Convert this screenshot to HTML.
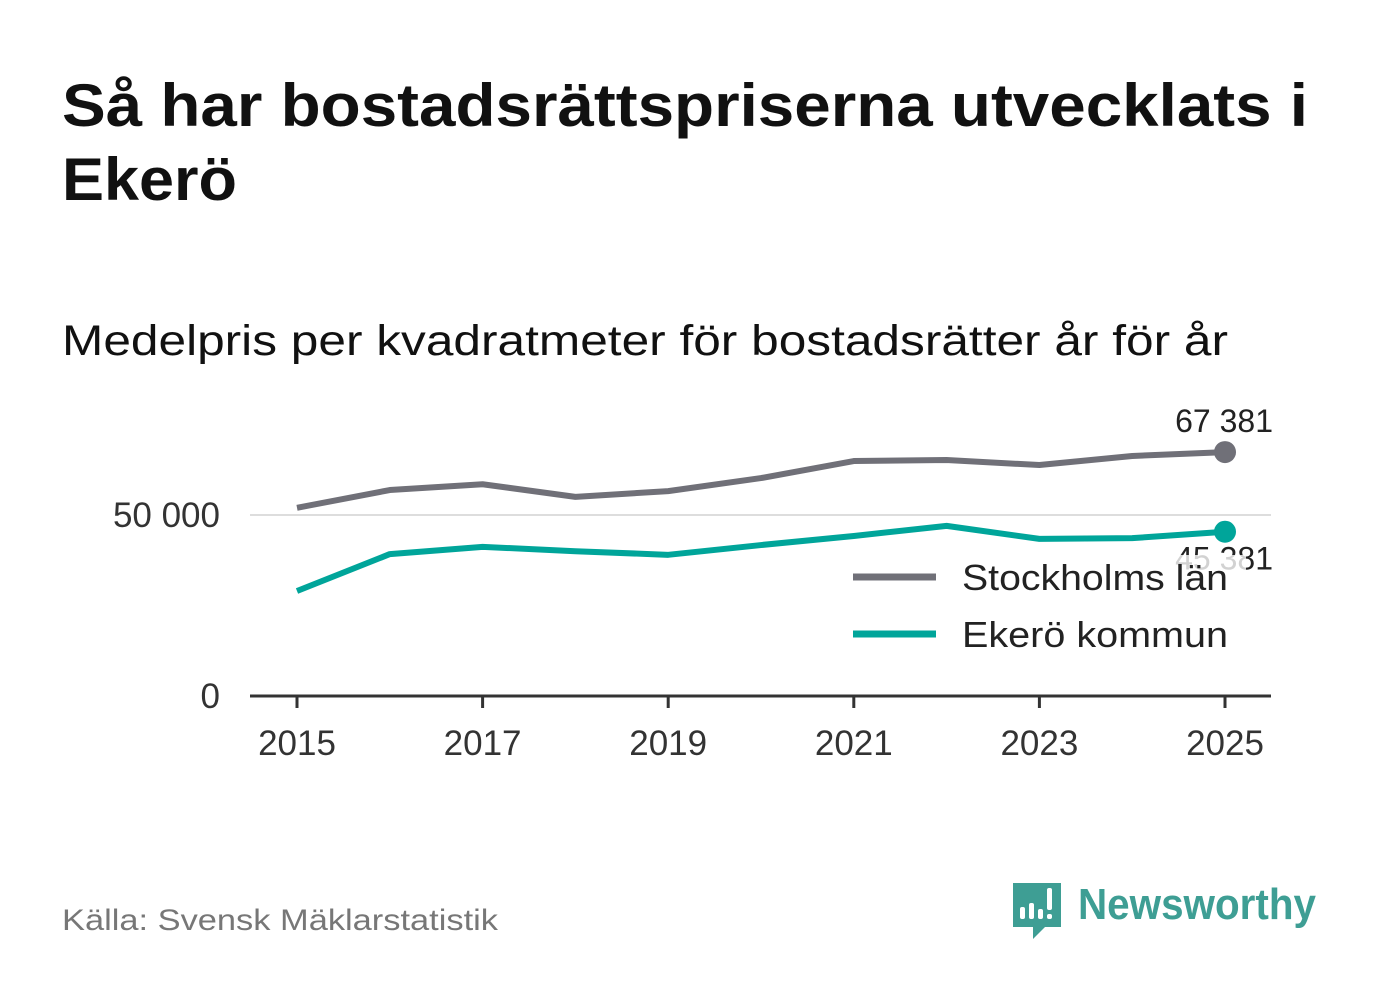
<!DOCTYPE html>
<html><head><meta charset="utf-8"><style>
body{margin:0;width:1382px;height:999px;background:#fff;overflow:hidden;font-family:"Liberation Sans","DejaVu Sans",sans-serif}
svg{display:block}
</style></head><body>
<svg id="c" width="1382" height="999" xmlns="http://www.w3.org/2000/svg">
<text x="62" y="126" font-size="60" font-weight="bold" fill="#111" textLength="1246" lengthAdjust="spacingAndGlyphs">Så har bostadsrättspriserna utvecklats i</text>
<text x="62" y="200" font-size="60" font-weight="bold" fill="#111" textLength="175" lengthAdjust="spacingAndGlyphs">Ekerö</text>
<text x="62" y="355" font-size="43" fill="#111" textLength="1166" lengthAdjust="spacingAndGlyphs">Medelpris per kvadratmeter för bostadsrätter år för år</text>
<g id="plot"></g>
<text x="62" y="930" font-size="30" fill="#777" textLength="436" lengthAdjust="spacingAndGlyphs">Källa: Svensk Mäklarstatistik</text>
<g>
<path d="M1013 883 h48 v44 h-16 l-12 12 v-12 h-20 z" fill="#3e9e94"/>
<rect x="1020" y="907" width="5" height="12" rx="2" fill="#fff"/><rect x="1029" y="903" width="5" height="16" rx="2" fill="#fff"/><rect x="1038" y="909" width="5" height="10" rx="2" fill="#fff"/><rect x="1047" y="888" width="5" height="22" rx="2" fill="#fff"/><rect x="1047" y="914" width="5" height="5" rx="2" fill="#fff"/>
<text x="1078" y="919" font-size="44" font-weight="bold" fill="#3e9e94" textLength="238" lengthAdjust="spacingAndGlyphs">Newsworthy</text>
</g>
</svg>
<script>
const years=[2015,2016,2017,2018,2019,2020,2021,2022,2023,2024,2025];
const stockholm=[52000,56900,58500,55000,56600,60200,64900,65200,63800,66300,67381];
const ekero=[29000,39200,41200,40000,39000,41700,44200,47000,43400,43600,45381];
const yTicks=[0,50000];
const yTickLabels=["0","50 000"];
const xTicks=[2015,2017,2019,2021,2023,2025];
const NS="http://www.w3.org/2000/svg";
const g=document.getElementById('plot');
const xs=v=>297+(v-2015)*92.8;
const ys=v=>696-v*181/50000;
function mk(t,a,p){const e=document.createElementNS(NS,t);for(const k in a)e.setAttribute(k,a[k]);(p||g).appendChild(e);return e;}
yTicks.forEach((t,i)=>{
 if(t>0){const l=mk('line',{x1:250,x2:1271,y1:ys(t),y2:ys(t),stroke:'#ddd','stroke-width':2});
 
 }
 const tx=mk('text',{x:220,y:ys(t)+12,'font-size':35,fill:'#333','text-anchor':'end'});tx.textContent=yTickLabels[i];
 
 
});
const ax=mk('line',{x1:250,x2:1271,y1:696,y2:696,stroke:'#333','stroke-width':3});


xTicks.forEach(t=>{
 const tk=mk('line',{x1:xs(t),x2:xs(t),y1:696,y2:708,stroke:'#333','stroke-width':3});
 
 
 const tx=mk('text',{x:xs(t),y:755,'font-size':35,fill:'#333','text-anchor':'middle'});tx.textContent=t;
 
 
});
function series(vals,color,name){
 const d=vals.map((v,i)=>(i?'L':'M')+xs(years[i])+' '+ys(v)).join(' ');
 const p=mk('path',{d:d,fill:'none',stroke:color,'stroke-width':6,'stroke-linejoin':'round'});
 
 
 const n=vals.length-1;
 const c=mk('circle',{cx:xs(years[n]),cy:ys(vals[n]),r:11,fill:color});
 
 
 return [xs(years[n]),ys(vals[n])];
}
const fmt=v=>String(v).replace(/\B(?=(\d{3})+(?!\d))/g,' ');
const s=series(stockholm,'#707078','stockholm');
const e=series(ekero,'#00a59a','ekero');
let t=mk('text',{x:s[0]+48,y:s[1]-20,'font-size':32,fill:'#222','text-anchor':'end'});t.textContent=fmt(stockholm[10]);


t=mk('text',{x:e[0]+48,y:e[1]+38,'font-size':32,fill:'#222','text-anchor':'end'});t.textContent=fmt(ekero[10]);


[['Stockholms län','#707078',577,266],['Ekerö kommun','#00a59a',634,266]].forEach(([lab,col,y,w])=>{
 const gg=mk('g',{});
 
 
 mk('rect',{x:846,y:y-22,width:400,height:46,fill:'#fff','fill-opacity':0.8},gg);
 mk('line',{x1:853,x2:936,y1:y,y2:y,stroke:col,'stroke-width':7},gg);
 const tt=mk('text',{x:962,y:y+13,'font-size':36,fill:'#222',textLength:w,lengthAdjust:'spacingAndGlyphs'},gg);tt.textContent=lab;
});
</script>
</body></html>
